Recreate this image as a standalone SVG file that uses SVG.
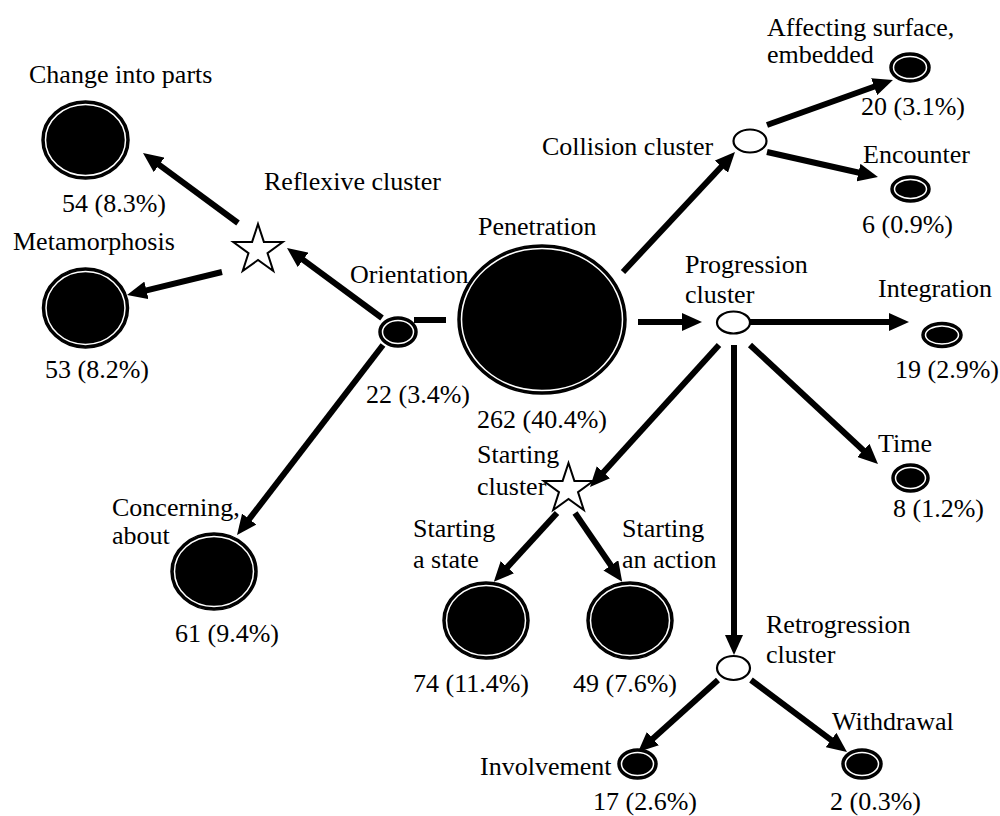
<svg xmlns="http://www.w3.org/2000/svg" width="1000" height="816" viewBox="0 0 1000 816">
<style>
text{font-family:"Liberation Serif","Times New Roman",serif;font-size:26px;fill:#000}
.n{fill:#000;stroke:#000;stroke-width:1.5}
.ring{fill:none;stroke:#fff;stroke-width:1.5}
.c{fill:#fff;stroke:#000;stroke-width:2.2}
.star{fill:#fff;stroke:#000;stroke-width:2}
.e{stroke:#000;stroke-width:6;fill:none}
.a{marker-end:url(#ah)}
</style>
<defs>
<marker id="ah" markerUnits="userSpaceOnUse" markerWidth="20" markerHeight="18" refX="2" refY="9" orient="auto" viewBox="0 0 20 18"><path d="M0,0 L20,9 L0,18 z" fill="#000"/></marker>
<polygon id="starShape" points="0,-26 5.88,-8.09 24.73,-8.03 9.51,3.09 15.29,21.03 0,10 -15.29,21.03 -9.51,3.09 -24.73,-8.03 -5.88,-8.09"/>
</defs>
<rect width="1000" height="816" fill="#fff"/>
<g id="connectors">
<line class="e a" x1="382" y1="318" x2="301.5" y2="258.7"/>
<line class="e a" x1="238" y1="223" x2="157.5" y2="163.7"/>
<line class="e a" x1="222" y1="272" x2="144.5" y2="290.8"/>
<line class="e a" x1="383" y1="345" x2="248" y2="520.7"/>
<line class="e" x1="414" y1="320" x2="446" y2="320"/>
<line class="e a" x1="638" y1="322" x2="684" y2="322"/>
<line class="e a" x1="623" y1="272" x2="722.7" y2="165.2"/>
<line class="e a" x1="767" y1="125" x2="876" y2="86"/>
<line class="e a" x1="767" y1="152" x2="860.4" y2="173"/>
<line class="e a" x1="750" y1="322" x2="891" y2="322"/>
<line class="e a" x1="750" y1="345" x2="864.8" y2="451.7"/>
<line class="e a" x1="734" y1="345" x2="734" y2="637"/>
<line class="e a" x1="719" y1="345" x2="602.1" y2="473.7"/>
<line class="e a" x1="557" y1="513" x2="506" y2="568.6"/>
<line class="e a" x1="575" y1="513" x2="612" y2="567"/>
<line class="e a" x1="718" y1="680" x2="651.4" y2="740"/>
<line class="e a" x1="751" y1="680" x2="832.6" y2="741.2"/>
</g>
<g id="change-into-parts"><ellipse class="n" cx="85.5" cy="140" rx="43.5" ry="39"/><ellipse class="ring" cx="85.5" cy="140" rx="40" ry="35.5"/><text x="29" y="83">Change into parts</text><text x="62" y="212">54 (8.3%)</text></g>
<g id="metamorphosis"><ellipse class="n" cx="85.5" cy="308" rx="43" ry="40"/><ellipse class="ring" cx="85.5" cy="308" rx="39.5" ry="36.5"/><text x="13" y="250">Metamorphosis</text><text x="45" y="378">53 (8.2%)</text></g>
<g id="reflexive-cluster"><use href="#starShape" class="star" transform="translate(258,250)"/><text x="264" y="190">Reflexive cluster</text></g>
<g id="orientation"><ellipse class="n" cx="398" cy="332" rx="19" ry="15"/><ellipse class="ring" cx="398" cy="332" rx="15.5" ry="11.5"/><text x="350" y="283">Orientation</text><text x="366" y="403">22 (3.4%)</text></g>
<g id="penetration"><ellipse class="n" cx="542" cy="319.5" rx="84" ry="74.5"/><ellipse class="ring" cx="542" cy="319.5" rx="80.5" ry="71"/><text x="478" y="235">Penetration</text><text x="477" y="428">262 (40.4%)</text></g>
<g id="concerning-about"><ellipse class="n" cx="214" cy="571.5" rx="43" ry="38.5"/><ellipse class="ring" cx="214" cy="571.5" rx="39.5" ry="35"/><text x="112" y="516">Concerning,</text><text x="112" y="544">about</text><text x="175" y="642">61 (9.4%)</text></g>
<g id="collision-cluster"><ellipse class="c" cx="750" cy="141" rx="16.5" ry="11.5"/><text x="542" y="155">Collision cluster</text></g>
<g id="affecting-surface"><ellipse class="n" cx="910" cy="67.5" rx="20" ry="14.5"/><ellipse class="ring" cx="910" cy="67.5" rx="16.5" ry="11"/><text x="767" y="36">Affecting surface,</text><text x="767" y="63">embedded</text><text x="861" y="115">20 (3.1%)</text></g>
<g id="encounter"><ellipse class="n" cx="910.5" cy="189" rx="19.5" ry="13"/><ellipse class="ring" cx="910.5" cy="189" rx="16" ry="9.5"/><text x="863" y="163">Encounter</text><text x="862" y="233">6 (0.9%)</text></g>
<g id="progression-cluster"><ellipse class="c" cx="733.5" cy="322.5" rx="16.5" ry="11"/><text x="685" y="273">Progression</text><text x="685" y="303">cluster</text></g>
<g id="integration"><ellipse class="n" cx="942" cy="335" rx="20" ry="12.5"/><ellipse class="ring" cx="942" cy="335" rx="16.5" ry="9"/><text x="878" y="297">Integration</text><text x="895" y="378">19 (2.9%)</text></g>
<g id="time"><ellipse class="n" cx="910.5" cy="478" rx="18.5" ry="14"/><ellipse class="ring" cx="910.5" cy="478" rx="15" ry="10.5"/><text x="878" y="452">Time</text><text x="893" y="517">8 (1.2%)</text></g>
<g id="starting-cluster"><use href="#starShape" class="star" transform="translate(568.5,489)"/><text x="477" y="463">Starting</text><text x="477" y="495">cluster</text></g>
<g id="starting-a-state"><ellipse class="n" cx="486" cy="620.5" rx="43" ry="38.5"/><ellipse class="ring" cx="486" cy="620.5" rx="39.5" ry="35"/><text x="413" y="537">Starting</text><text x="413" y="568">a state</text><text x="413" y="692">74 (11.4%)</text></g>
<g id="starting-an-action"><ellipse class="n" cx="630" cy="620.5" rx="43" ry="38.5"/><ellipse class="ring" cx="630" cy="620.5" rx="39.5" ry="35"/><text x="622" y="537">Starting</text><text x="622" y="568">an action</text><text x="573" y="692">49 (7.6%)</text></g>
<g id="retrogression-cluster"><ellipse class="c" cx="733.5" cy="668" rx="16.5" ry="12"/><text x="766" y="633">Retrogression</text><text x="766" y="663">cluster</text></g>
<g id="involvement"><ellipse class="n" cx="637.5" cy="764" rx="19.5" ry="15"/><ellipse class="ring" cx="637.5" cy="764" rx="16" ry="11.5"/><text x="480" y="775">Involvement</text><text x="593" y="810">17 (2.6%)</text></g>
<g id="withdrawal"><ellipse class="n" cx="862" cy="764" rx="20" ry="15"/><ellipse class="ring" cx="862" cy="764" rx="16.5" ry="11.5"/><text x="832" y="730">Withdrawal</text><text x="830" y="810">2 (0.3%)</text></g>
</svg>
